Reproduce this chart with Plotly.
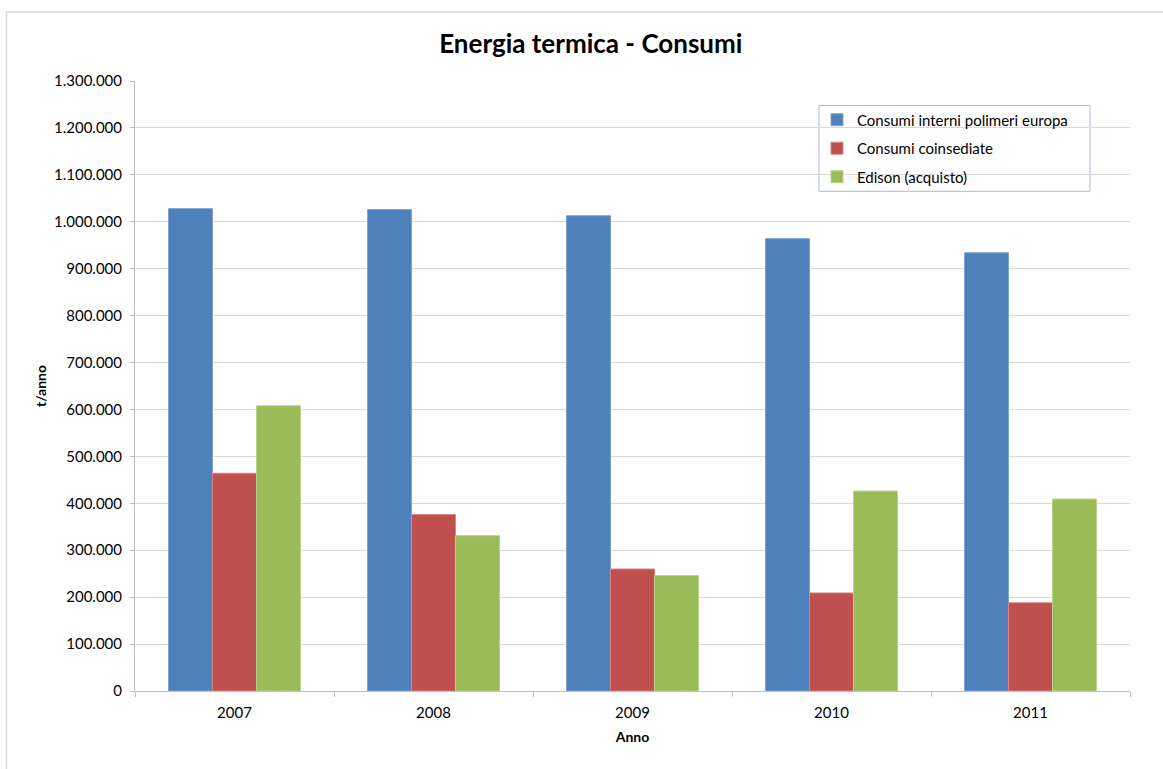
import plotly.graph_objects as go

years = ["2007", "2008", "2009", "2010", "2011"]
consumi_interni = [1028000, 1026000, 1013000, 964000, 934000]
consumi_coinsediate = [464000, 376000, 260000, 209000, 188000]
edison_acquisto = [608000, 331000, 246000, 426000, 409000]

series_names = ["Consumi interni polimeri europa", "Consumi coinsediate", "Edison (acquisto)"]
colors = ["#4F81BD", "#C0504D", "#9BBB59"]
edge = ["#7FA3D3", "#D98583", "#B8D28A"]

FONT = "Lato"

W, H = 1163, 769
L, R, T, B = 135, 33, 80.5, 77.5
pw, ph = W - L - R, H - T - B

def px_x(px):
    return (px - L) / pw

def px_y(py):
    return (H - B - py) / ph

fig = go.Figure()
for name, vals, c, e in zip(series_names, [consumi_interni, consumi_coinsediate, edison_acquisto], colors, edge):
    fig.add_trace(go.Bar(
        x=years, y=vals, name=name, legendgroup=name,
        marker=dict(color=c, line=dict(color=e, width=1)),
    ))

fig.update_layout(
    width=W, height=H,
    margin=dict(l=L, r=R, t=T, b=B, autoexpand=False),
    paper_bgcolor="white", plot_bgcolor="white",
    separators=",.",
    barmode="group", bargap=0.337, bargroupgap=0,
    font=dict(family=FONT, size=14, color="#000000"),
    title=dict(text="<b>Energia termica - Consumi</b>", x=0.508, xanchor="center",
               y=1 - 44 / H, yanchor="middle", font=dict(family=FONT, size=26, color="#000000")),
    showlegend=True,
    legend=dict(x=px_x(817), y=px_y(103), xanchor="left", yanchor="top",
                bgcolor="rgba(0,0,0,0)", borderwidth=0,
                font=dict(family=FONT, size=15, color="#000000"),
                tracegroupgap=6, itemwidth=30),
    xaxis=dict(type="category", showgrid=False, showline=True, linecolor="#BFBFBF", linewidth=1,
               ticks="outside", tickson="boundaries", ticklen=5, tickcolor="#BFBFBF",
               ticklabelstandoff=8,
               tickfont=dict(family=FONT, size=15),
               title=dict(text="<b>Anno</b>", font=dict(family=FONT, size=14), standoff=12)),
    yaxis=dict(range=[0, 1300000], dtick=100000, tickformat=",d", showgrid=True,
               gridcolor="#D9D9D9", gridwidth=1, showline=True, linecolor="#BFBFBF", linewidth=1,
               ticks="outside", ticklen=4, tickcolor="#BFBFBF", zeroline=False,
               ticklabelstandoff=5,
               tickfont=dict(family=FONT, size=15),
               title=dict(text="<b>t/anno</b>", font=dict(family=FONT, size=14), standoff=4)),
    shapes=[
        dict(type="rect", xref="paper", yref="paper",
             x0=px_x(819), x1=px_x(1090), y0=px_y(191), y1=px_y(105),
             line=dict(color="#A7B9E3", width=1), fillcolor="rgba(255,255,255,1)", layer="below"),
        dict(type="rect", xref="paper", yref="paper",
             x0=px_x(6.5), x1=px_x(1200), y0=px_y(800), y1=px_y(11.5),
             line=dict(color="#D9D9D9", width=1.5), fillcolor="rgba(0,0,0,0)", layer="below"),
    ],
)

fig.write_html("out.html")
